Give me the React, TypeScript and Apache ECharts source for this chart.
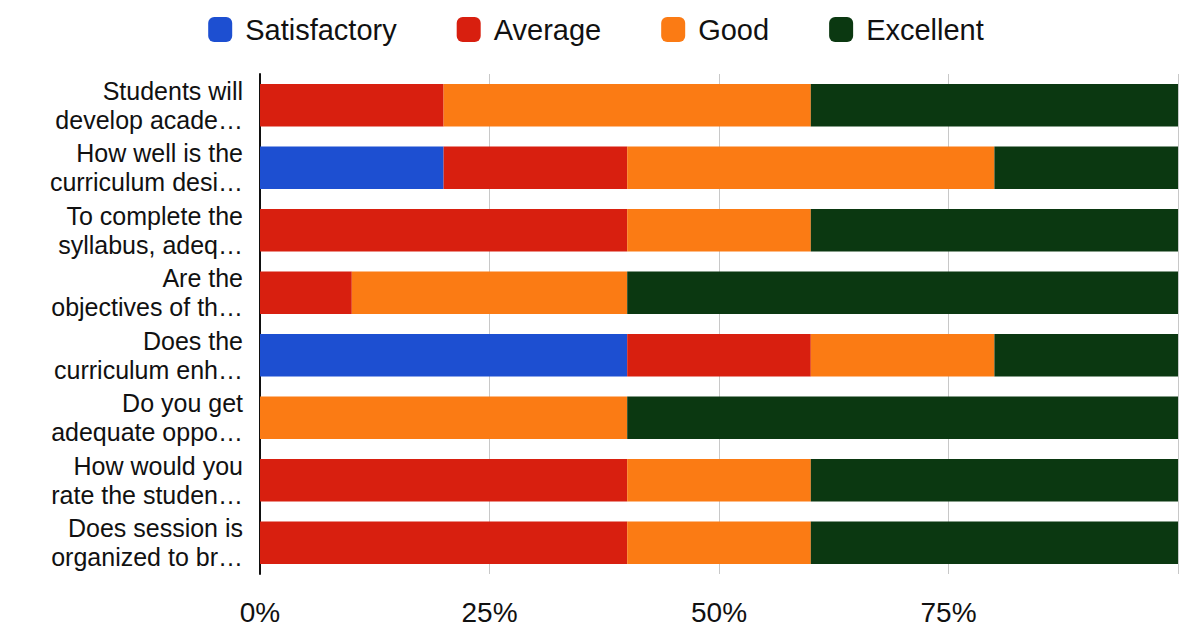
import React, { useEffect, useRef } from "react";
import * as echarts from "echarts";

const categories = [
  "Students will\ndevelop acade…",
  "How well is the\ncurriculum desi…",
  "To complete the\nsyllabus, adeq…",
  "Are the\nobjectives of th…",
  "Does the\ncurriculum enh…",
  "Do you get\nadequate oppo…",
  "How would you\nrate the studen…",
  "Does session is\norganized to br…",
];
const seriesNames = ["Satisfactory", "Average", "Good", "Excellent"];
const satisfactory = [0, 20, 0, 0, 40, 0, 0, 0];
const average = [20, 20, 40, 10, 20, 0, 40, 40];
const good = [40, 40, 20, 30, 20, 40, 20, 20];
const excellent = [40, 20, 40, 60, 20, 60, 40, 40];
const colors = ["#1d4fd1", "#d81f0f", "#fb7b14", "#0b3811"];
const xTicks = [0, 25, 50, 75, 100];

export default function App() {
  const ref = useRef<HTMLDivElement>(null);
  useEffect(() => {
    document.body.style.margin = "0";
    const chart = echarts.init(ref.current!, null, { renderer: "svg" });
    const data = [satisfactory, average, good, excellent];
    chart.setOption({
      animation: false,
      backgroundColor: "#ffffff",
      textStyle: { fontFamily: "Liberation Sans, Arial, sans-serif" },
      legend: {
        top: 10,
        left: "center",
        itemWidth: 24,
        itemHeight: 25,
        itemGap: 60,
        icon: "roundRect",
        textStyle: { fontSize: 29, color: "#111", padding: [0, 0, 0, 8] },
        data: seriesNames,
      },
      grid: { left: 260, right: 14, top: 74, bottom: 60, containLabel: false },
      xAxis: {
        type: "value",
        min: 0,
        max: 100,
        interval: 25,
        axisLine: { show: false },
        axisTick: { show: false },
        splitLine: { show: true, lineStyle: { color: "#c8c8c8", width: 1 } },
        axisLabel: {
          fontSize: 28,
          color: "#111",
          margin: 24,
          formatter: (v: number) => (v === xTicks[4] ? "" : v + "%"),
        },
      },
      yAxis: {
        type: "category",
        inverse: true,
        data: categories,
        axisLine: { show: true, lineStyle: { color: "#111", width: 2 } },
        axisTick: { show: false },
        axisLabel: {
          fontSize: 25,
          color: "#111",
          margin: 17,
          align: "right",
          lineHeight: 29,
        },
      },
      series: seriesNames.map((name, i) => ({
        name,
        type: "bar",
        stack: "total",
        barCategoryGap: "32%",
        itemStyle: { color: colors[i] },
        data: data[i],
      })),
    });
    return () => chart.dispose();
  }, []);
  return <div ref={ref} style={{ width: 1192, height: 634 }} />;
}
